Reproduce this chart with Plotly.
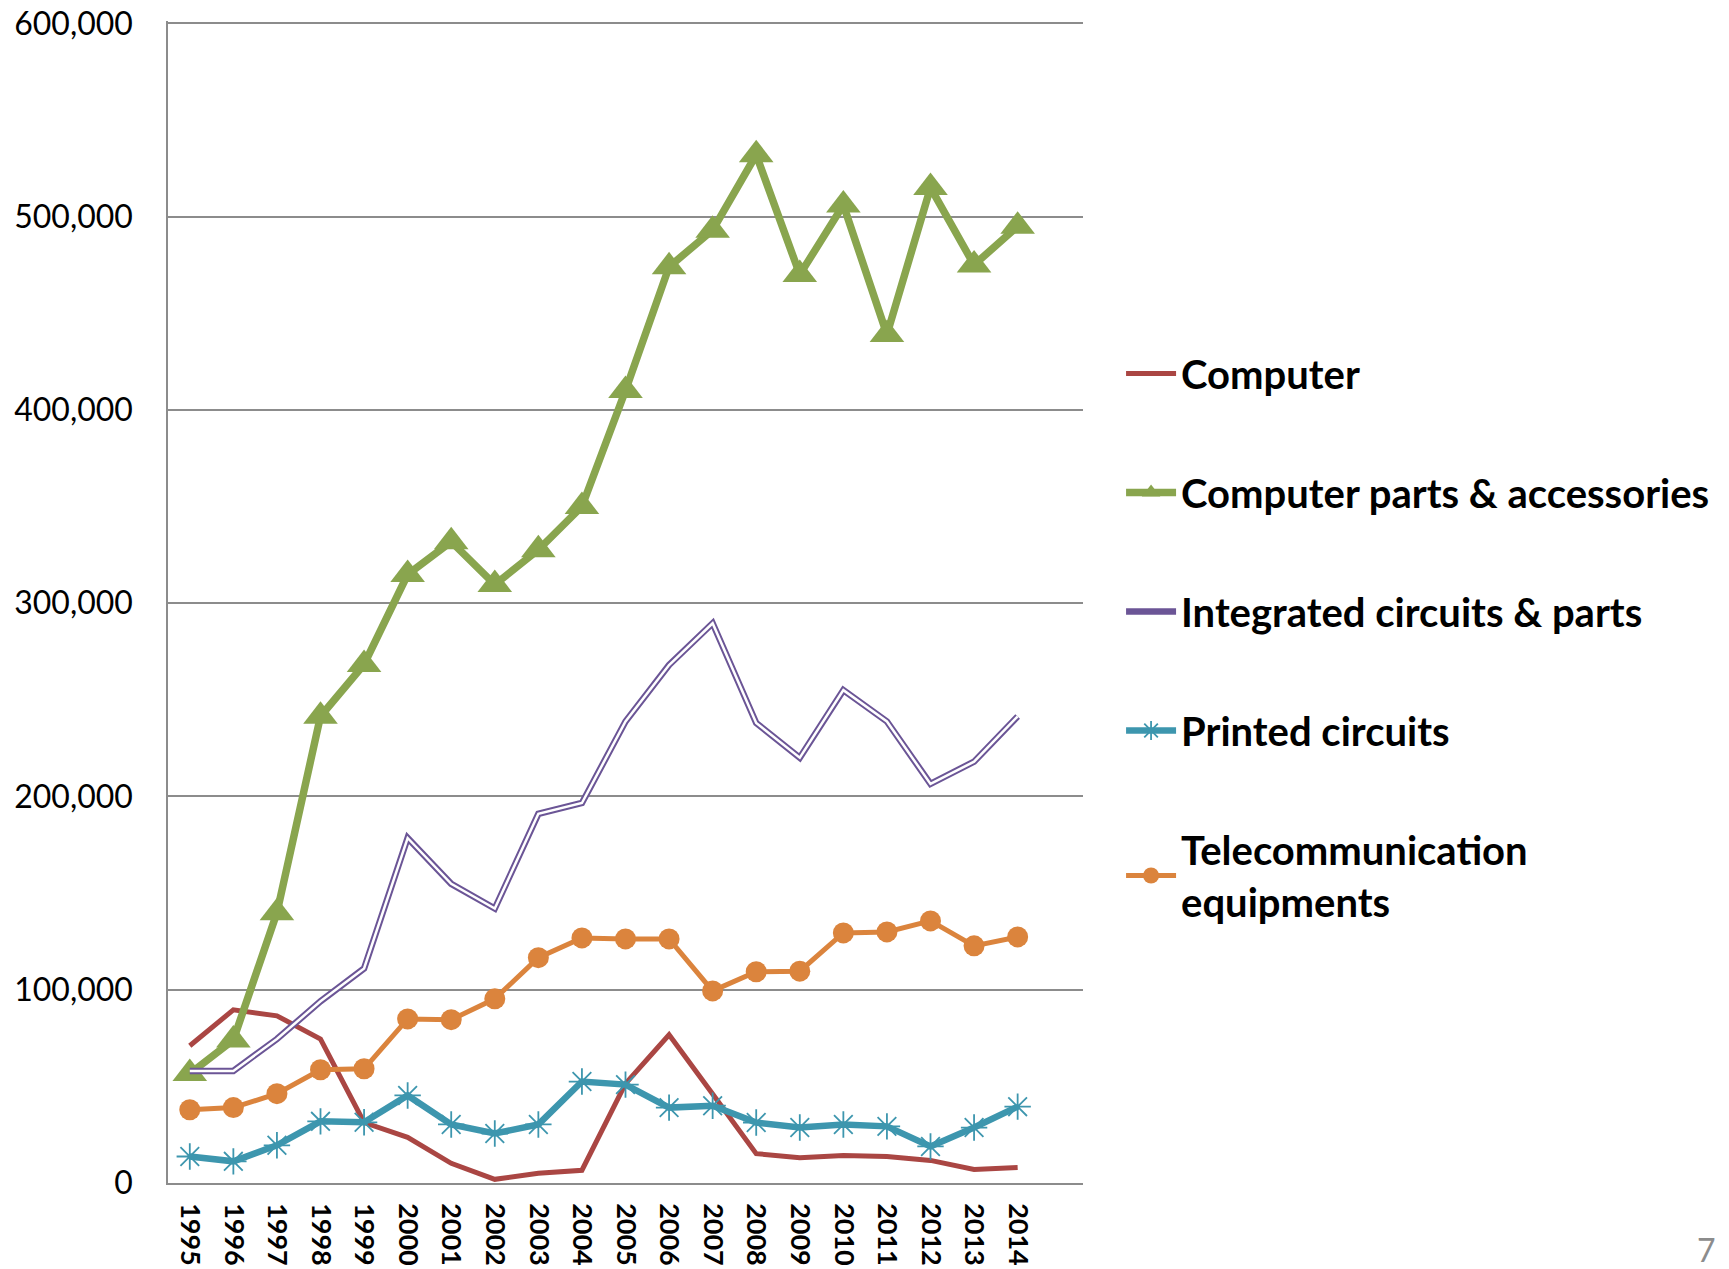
import plotly.graph_objects as go

years = [str(y) for y in range(1995, 2015)]

computer = [71000, 89600, 86500, 74500, 31300, 23600, 10200, 1900, 5000, 6600,
            51400, 76700, 46000, 15200, 13100, 14200, 13700, 11700, 7000, 8000]
computer_parts = [56600, 74000, 139800, 241500, 268300, 314800, 331800, 309600, 327600, 350000,
                  410000, 474000, 493000, 532000, 470000, 506000, 439000, 515000, 475000, 495000]
integrated = [58000, 58000, 74500, 94000, 111000, 178500, 154800, 142000, 191000, 196600,
              238800, 268000, 289600, 238000, 220000, 255000, 238800, 206500, 218000, 241400]
printed = [13700, 11200, 19500, 31900, 31400, 45300, 30300, 25600, 30300, 52500,
           50900, 39000, 40000, 31300, 28700, 30300, 29300, 18900, 28700, 39500]
telecom = [37900, 39000, 46200, 58600, 59100, 84900, 84500, 95300, 116600, 126800,
           126300, 126300, 99400, 109300, 109600, 129400, 129900, 135600, 122700, 127300]

y_ticks = [0, 100000, 200000, 300000, 400000, 500000, 600000]

FONT = "Lato, 'Open Sans', sans-serif"
GRID = "#8C8C8C"

fig = go.Figure()

fig.add_trace(go.Scatter(
    x=years, y=computer, mode="lines", name="Computer", legendgroup="a",
    line=dict(color="#AA4643", width=5),
))
fig.add_trace(go.Scatter(
    x=years, y=computer_parts, mode="lines+markers", name="Computer parts & accessories",
    legendgroup="b",
    line=dict(color="#89A54E", width=7.5),
    marker=dict(symbol="triangle-up", size=30, color="#89A54E"),
))
# integrated circuits: double line (purple with white core)
fig.add_trace(go.Scatter(
    x=years, y=integrated, mode="lines", name="Integrated circuits & parts", legendgroup="c",
    line=dict(color="#6B5596", width=6.5),
))
fig.add_trace(go.Scatter(
    x=years, y=integrated, mode="lines", legendgroup="c", showlegend=False, hoverinfo="skip",
    line=dict(color="white", width=2.5),
))
fig.add_trace(go.Scatter(
    x=years, y=printed, mode="lines+markers", name="Printed circuits", legendgroup="d",
    line=dict(color="#3D96AE", width=6.5),
    marker=dict(symbol="asterisk-open", size=22, color="#3D96AE", line=dict(width=1.8, color="#3D96AE")),
))
fig.add_trace(go.Scatter(
    x=years, y=telecom, mode="lines+markers", name="Telecommunication<br>equipments",
    legendgroup="e",
    line=dict(color="#DB843D", width=5),
    marker=dict(symbol="circle", size=21, color="#DB843D"),
))

fig.add_annotation(
    text="7", xref="paper", yref="paper", x=1.694, y=-0.057, yanchor="middle",
    showarrow=False, font=dict(family=FONT, size=32, color="#8C8C8C"),
)

# page body has an 8px default margin, so the figure is 8px smaller than the window
fig.update_layout(
    width=1721,
    height=1261,
    margin=dict(l=160, r=646, t=13, b=86, autoexpand=False),
    paper_bgcolor="white",
    plot_bgcolor="white",
    font=dict(family=FONT, color="black"),
    showlegend=True,
    legend=dict(
        x=1.0416, xanchor="left", y=0.7246, yanchor="top",
        font=dict(family=FONT, size=40, color="black", weight="bold"),
        tracegroupgap=64,
        itemwidth=50,
        bgcolor="rgba(0,0,0,0)",
    ),
)
fig.update_xaxes(
    type="category",
    range=[-0.5, 20.5],
    automargin=False,
    showgrid=False,
    showline=True, linecolor=GRID, linewidth=1.5,
    tickangle=90,
    tickfont=dict(family=FONT, size=27, color="black", weight="bold"),
    ticks="",
    ticklabelstandoff=13,
)
fig.update_yaxes(
    range=[0, 601200],
    automargin=False,
    tickvals=y_ticks,
    tickformat=",",
    ticklabeloverflow="allow",
    showgrid=True, gridcolor=GRID, gridwidth=1.5,
    showline=True, linecolor=GRID, linewidth=1.5,
    zeroline=False,
    tickfont=dict(family=FONT, size=32, color="black"),
    ticks="",
    ticklabelstandoff=27,
)

fig.write_html("out.html")
